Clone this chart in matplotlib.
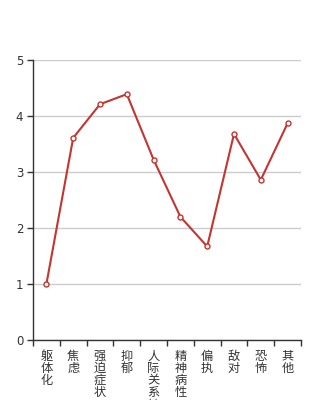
import matplotlib
matplotlib.use("Agg")
import matplotlib.pyplot as plt
import numpy as np

plt.rcParams['font.family'] = ['Noto Sans CJK SC', 'DejaVu Sans']

categories = ['躯体化', '焦虑', '强迫症状', '抑郁', '人际关系敏感',
              '精神病性', '偏执', '敌对', '恐怖', '其他']
values = [1.0, 3.61, 4.21, 4.39, 3.22, 2.20, 1.67, 3.68, 2.86, 3.87]

LINE_RED = '#c23531'
AXIS_COLOR = '#333333'

fig = plt.figure(figsize=(3.34, 4.0), dpi=100)
ax = fig.add_axes([33 / 334, 60 / 400, 268 / 334, 280 / 400])

x = np.arange(len(categories))
ax.plot(x, values, color=LINE_RED, linewidth=1.5, marker='o', markersize=3.6,
        markerfacecolor='white', markeredgecolor=LINE_RED, markeredgewidth=1.0,
        zorder=3)

ax.set_xlim(-0.5, len(categories) - 0.5)
ax.set_ylim(0, 5)

# grid
ax.set_yticks([0, 1, 2, 3, 4, 5])
ax.yaxis.grid(True, color='#cccccc', linewidth=1.0)
ax.set_axisbelow(True)

# x ticks on band edges, labels at centres
ax.set_xticks(np.arange(len(categories) + 1) - 0.5)
ax.set_xticklabels([])
ax.set_xticks(x, minor=True)
ax.set_xticklabels(['\n'.join(c) for c in categories], minor=True,
                   fontsize=8.8, color=AXIS_COLOR, va='top', linespacing=0.92)
ax.tick_params(axis='x', which='minor', length=0, pad=7)
ax.tick_params(axis='x', which='major', length=4, width=1, color=AXIS_COLOR)
ax.tick_params(axis='y', length=4, width=1, color=AXIS_COLOR, labelsize=8.5,
               labelcolor=AXIS_COLOR, pad=3)
for lab in ax.get_yticklabels():
    lab.set_family('DejaVu Sans')

for side in ['top', 'right']:
    ax.spines[side].set_visible(False)
for side in ['left', 'bottom']:
    ax.spines[side].set_color(AXIS_COLOR)
    ax.spines[side].set_linewidth(1.0)

fig.savefig('out.png', dpi=100)
